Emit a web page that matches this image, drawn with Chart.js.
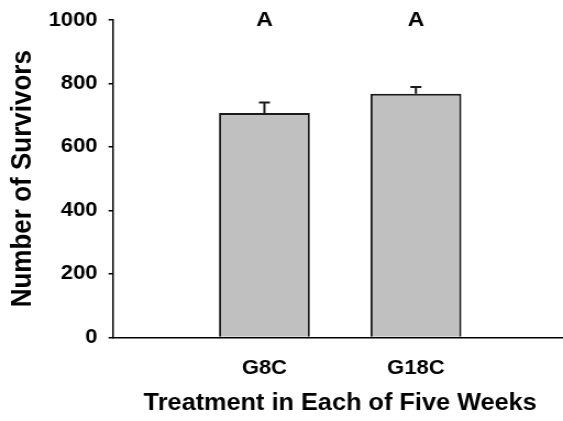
<!DOCTYPE html>
<html>
<head>
<meta charset="utf-8">
<script src="https://cdn.jsdelivr.net/npm/chart.js@4/dist/chart.umd.min.js"></script>
<style>
  html, body { margin: 0; padding: 0; background: #fff; overflow: hidden; }
  /* the reference is a little wider than its fonts, so stretch the drawing sideways;
     the x axis runs a few pixels past the right edge, as in the reference */
  #wrap { position: absolute; left: 0; top: 0; width: 516px; height: 421px;
          transform: scaleX(1.0996); transform-origin: 0 0; }
</style>
</head>
<body>
<div id="wrap"><canvas id="barChart"></canvas></div>
<script>
// data
var categories = ['', 'G8C', 'G18C', ''];
var survivors = [null, 707, 768, null];
var stdErrors = [null, 33, 21, null];
var letters = ['', 'A', 'A', ''];
var letterLevel = 1000;

var fontFamily = '"Liberation Sans", Arial, sans-serif';

// error bars + letters above bars
var extrasPlugin = {
  id: 'extras',
  afterDatasetsDraw: function (chart) {
    var ctx = chart.ctx;
    var yScale = chart.scales.y;
    var meta = chart.getDatasetMeta(0);
    ctx.save();
    ctx.strokeStyle = '#1a1a1a';
    ctx.lineWidth = 2;
    for (var i = 0; i < survivors.length; i++) {
      if (survivors[i] === null) continue;
      var x = meta.data[i].x;
      var yBar = yScale.getPixelForValue(survivors[i]);
      var yTop = yScale.getPixelForValue(survivors[i] + stdErrors[i]);
      ctx.beginPath();
      ctx.moveTo(x, yBar);
      ctx.lineTo(x, yTop);
      ctx.moveTo(x - 5, yTop);
      ctx.lineTo(x + 5, yTop);
      ctx.stroke();
    }
    ctx.fillStyle = '#000';
    ctx.font = 'bold 21px ' + fontFamily;
    ctx.textAlign = 'center';
    ctx.textBaseline = 'middle';
    for (var j = 0; j < letters.length; j++) {
      if (!letters[j]) continue;
      ctx.fillText(letters[j], meta.data[j].x, yScale.getPixelForValue(letterLevel));
    }
    ctx.restore();
  }
};

var ctx = document.getElementById('barChart').getContext('2d');
var myBarChart = new Chart(ctx, {
  type: 'bar',
  data: {
    labels: categories,
    datasets: [{
      label: 'Number of Survivors',
      data: survivors,
      backgroundColor: '#c0c0c0',
      borderColor: '#1a1a1a',
      borderWidth: 2,
      borderSkipped: 'bottom',
      barPercentage: 1,
      categoryPercentage: 0.6
    }]
  },
  options: {
    responsive: true,
    maintainAspectRatio: false,
    animation: false,
    layout: { padding: { top: 20, right: 0, bottom: 0, left: 0 } },
    plugins: {
      legend: { display: false },
      tooltip: { enabled: false }
    },
    scales: {
      x: {
        offset: false,
        afterFit: function (scale) {
          scale.paddingLeft = 0;
          scale.paddingRight = 0;
        },
        grid: { display: false, drawTicks: false },
        border: { display: true, color: '#000', width: 1.5 },
        ticks: {
          color: '#000',
          padding: 19,
          maxRotation: 0,
          autoSkip: false,
          font: { family: fontFamily, size: 20, weight: 'bold' }
        },
        title: {
          display: true,
          text: 'Treatment in Each of Five Weeks',
          color: '#000',
          padding: { top: -10, bottom: 4 },
          font: { family: fontFamily, size: 23, weight: 'bold' }
        }
      },
      y: {
        min: 0,
        max: 1000,
        afterFit: function (scale) {
          scale.paddingTop = 0;
          scale.paddingBottom = 0;
        },
        grid: { display: true, drawOnChartArea: false, drawTicks: true, tickLength: 4, color: '#000', lineWidth: 1.5 },
        border: { display: true, color: '#000', width: 1.5 },
        ticks: {
          stepSize: 200,
          color: '#000',
          padding: 10,
          callback: function (value) { return String(value); },
          font: { family: fontFamily, size: 20, weight: 'bold' }
        },
        title: {
          display: true,
          text: 'Number of Survivors',
          color: '#000',
          padding: { top: 5, bottom: -2 },
          font: { family: fontFamily, size: 26, weight: 'bold' }
        }
      }
    }
  },
  plugins: [extrasPlugin]
});
</script>
</body>
</html>
